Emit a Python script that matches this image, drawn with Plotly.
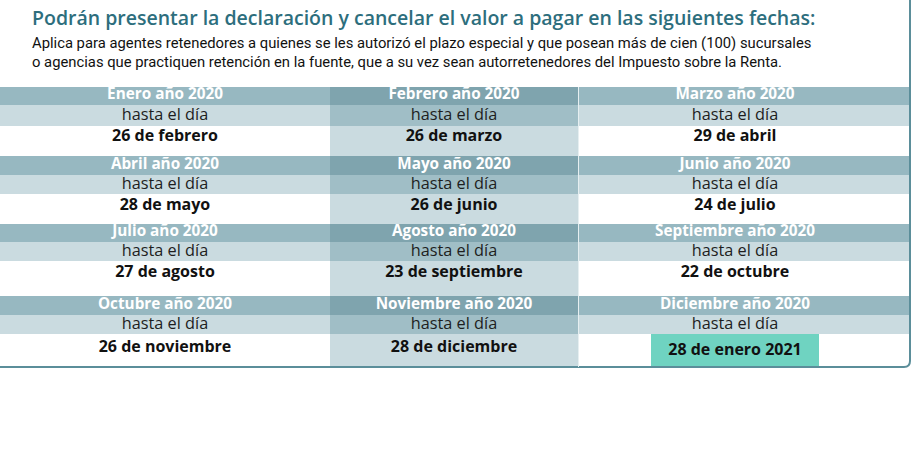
import plotly.graph_objects as go

# data
months = ["Enero", "Febrero", "Marzo", "Abril", "Mayo", "Junio",
          "Julio", "Agosto", "Septiembre", "Octubre", "Noviembre", "Diciembre"]
year = 2020
due_dates = ["26 de febrero", "26 de marzo", "29 de abril",
             "28 de mayo", "26 de junio", "24 de julio",
             "27 de agosto", "23 de septiembre", "22 de octubre",
             "26 de noviembre", "28 de diciembre", "28 de enero 2021"]
row_label = "hasta el día"
highlight = "Diciembre"

title = "Podrán presentar la declaración y cancelar el valor a pagar en las siguientes fechas:"
subtitle = ("Aplica para agentes retenedores a quienes se les autorizó el plazo especial y que posean más de cien (100) sucursales<br>"
            "o agencias que practiquen retención en la fuente, que a su vez sean autorretenedores del Impuesto sobre la Renta.")

# layout (pixels)
W, H = 919, 460
col_left = [0, 330, 579]
col_right = [330, 579, 910]
col_text_x = [165, 454, 735]
block_top = [87, 156, 224, 296]
head_h = [18, 19, 18, 19]
hasta_h = [21, 19, 19, 19]
date_h = [30, 30, 35, 32]
date_text_dy = [11, 12, 12, 14]

head_col = ["#97b8c1", "#7fa4ae", "#97b8c1"]
hasta_col = ["#cadbe0", "#a0bec6", "#cadbe0"]
date_col = ["#ffffff", "#cadbe0", "#ffffff"]
hl_col = "#6fd3c1"
teal = "#2d6e7d"

bx, bw, bb, bh, bc = [], [], [], [], []
hx, hy, ht = [], [], []
sx, sy = [], []
dx, dy, dt = [], [], []
hl = None
for i, m in enumerate(months):
    r, c = divmod(i, 3)
    xc = (col_left[c] + col_right[c]) / 2
    w = col_right[c] - col_left[c]
    t0 = block_top[r]
    t1 = t0 + head_h[r]
    t2 = t1 + hasta_h[r]
    for base, h, colr in [(t0, head_h[r], head_col[c]),
                          (t1, hasta_h[r], hasta_col[c]),
                          (t2, date_h[r], date_col[c])]:
        bx.append(xc); bw.append(w); bb.append(base); bh.append(h); bc.append(colr)
    hx.append(col_text_x[c]); hy.append(t0 + head_h[r] / 2 - 0.5); ht.append(f"<b>{m} año {year}</b>")
    sx.append(col_text_x[c]); sy.append(t1 + hasta_h[r] / 2 + 0.5)
    dx.append(col_text_x[c]); dy.append(t2 + date_text_dy[r]); dt.append(f"<b>{due_dates[i]}</b>")
    if m == highlight:
        hl = (t2, date_h[r])
        dy[-1] = t2 + date_h[r] / 2 + 1

fig = go.Figure()
fig.add_trace(go.Bar(x=bx, y=bh, base=bb, width=bw, marker_color=bc,
                     marker_line_width=0, hoverinfo="skip", showlegend=False))
fig.add_trace(go.Bar(x=[735], y=[hl[1]], base=[hl[0]], width=[168], marker_color=hl_col,
                     marker_line_width=0, hoverinfo="skip", showlegend=False))
fig.add_trace(go.Scatter(x=hx, y=hy, text=ht, mode="text", showlegend=False, hoverinfo="skip",
                         textfont=dict(family="Open Sans", size=15.3, color="white")))
fig.add_trace(go.Scatter(x=sx, y=sy, text=[row_label] * len(sx), mode="text", showlegend=False,
                         hoverinfo="skip", textfont=dict(family="Open Sans", size=16.3, color="#1e1e1e")))
fig.add_trace(go.Scatter(x=dx, y=dy, text=dt, mode="text", showlegend=False, hoverinfo="skip",
                         textfont=dict(family="Open Sans", size=16, color="#111111")))

# frame
fig.add_shape(type="path", xref="x", yref="y",
              path="M 910 0 L 910 361 Q 910 367 904 367 L 0 367",
              line=dict(color="#5b8e9a", width=2), layer="above")
fig.add_shape(type="line", xref="x", yref="y", x0=578.5, x1=578.5, y0=87, y1=367,
              line=dict(color="#e6eff1", width=1))

fig.add_annotation(x=30, y=17, xref="x", yref="y", text=title, showarrow=False,
                   xanchor="left", yanchor="middle",
                   font=dict(family="Open Sans", size=19.5, weight=600, color=teal))
fig.add_annotation(x=30, y=52, xref="x", yref="y", text=subtitle, showarrow=False,
                   xanchor="left", yanchor="middle", align="left",
                   font=dict(family="Roboto", size=14.8, color="#111111"))

fig.update_xaxes(range=[0, W], visible=False, fixedrange=True)
fig.update_yaxes(range=[H, 0], visible=False, fixedrange=True)
fig.update_layout(width=W, height=H, margin=dict(l=0, r=0, t=0, b=0),
                  plot_bgcolor="white", paper_bgcolor="white", barmode="overlay", bargap=0)
fig.write_html("out.html", config={"displayModeBar": False},
               post_script="document.body.style.margin='0';")
